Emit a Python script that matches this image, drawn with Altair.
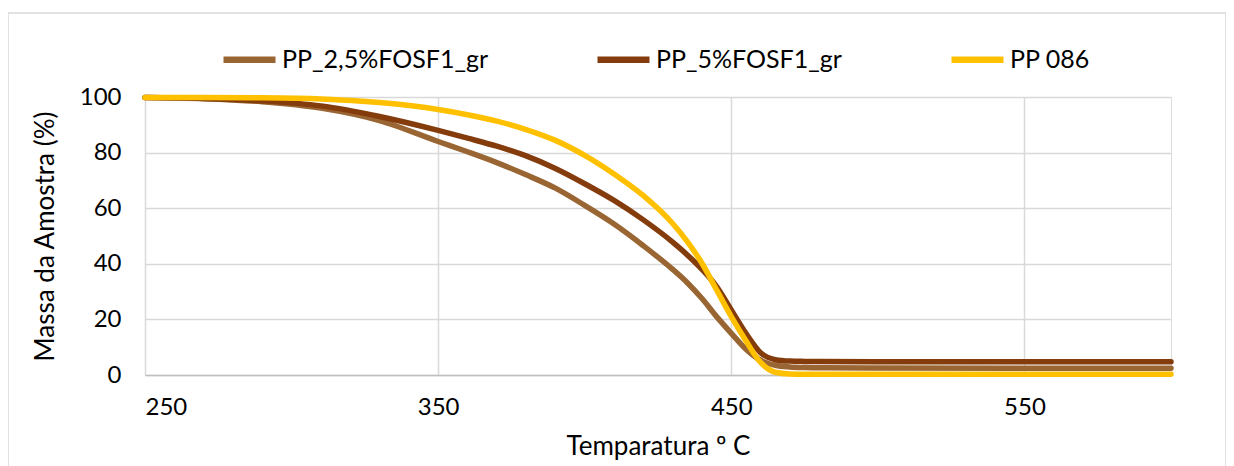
import altair as alt
import pandas as pd

# Temperature points (ºC)
temps = [250, 270, 290, 310, 330, 350, 360, 370, 380, 390, 400, 410, 420, 430, 435, 440,
         445, 450, 455, 460, 465, 470, 475, 480, 500, 600]

# Mass (%) per series
pp_25 = [99.8, 99.4, 98.3, 96.0, 91.5, 84.0, 80.3, 76.4, 72.0, 67.2, 61.0, 54.3, 46.5, 38.0, 33.2, 27.5,
         21.0, 15.0, 9.3, 5.3, 3.5, 2.9, 2.7, 2.6, 2.5, 2.4]
pp_5 = [99.8, 99.5, 98.6, 96.8, 93.0, 88.0, 85.2, 82.3, 78.8, 74.3, 68.8, 62.8, 55.8, 47.8, 43.2, 38.0,
        31.8, 23.4, 15.0, 8.0, 5.5, 5.0, 4.9, 4.85, 4.8, 4.8]
pp_086 = [99.8, 99.8, 99.7, 99.3, 98.0, 95.5, 93.6, 91.3, 88.3, 84.4, 79.0, 72.3, 64.5, 54.5, 48.0, 40.2,
          30.6, 21.0, 12.3, 4.5, 1.0, 0.4, 0.3, 0.3, 0.3, 0.3]

series_names = ["PP_2,5%FOSF1_gr", "PP_5%FOSF1_gr", "PP 086"]
series_colors = ["#996633", "#843C0C", "#FFC000"]
x_ticks = [250, 350, 450, 550]
y_ticks = [0, 20, 40, 60, 80, 100]

rows = []
for i, (name, vals) in enumerate(zip(series_names, [pp_25, pp_5, pp_086])):
    for t, v in zip(temps, vals):
        rows.append({"T": t, "M": v, "serie": name, "ordem": i})
df = pd.DataFrame(rows)

FONT = "Lato"

lines = alt.Chart(df).mark_line(strokeWidth=5.5, strokeCap="round", interpolate="monotone").encode(
    x=alt.X("T:Q", title="Temparatura º C",
            scale=alt.Scale(domain=[250, 600], nice=False, zero=False),
            axis=alt.Axis(values=x_ticks, grid=True, gridColor="#d9d9d9", gridWidth=1.5,
                          domain=True, domainColor="#bfbfbf", domainWidth=1.5, ticks=False,
                          labelPadding=20, titlePadding=14, labelFontSize=24, titleFontSize=26,
                          labelFont=FONT, titleFont=FONT, labelColor="#000000", titleColor="#000000",
                          titleFontWeight="normal")),
    y=alt.Y("M:Q", title="Massa da Amostra (%)",
            scale=alt.Scale(domain=[0, 100], nice=False),
            axis=alt.Axis(values=y_ticks, grid=True, gridColor="#d9d9d9", gridWidth=1.5,
                          domain=False, ticks=False, labelPadding=24, titlePadding=21,
                          labelFontSize=24, titleFontSize=26, labelFont=FONT, titleFont=FONT,
                          labelColor="#000000", titleColor="#000000", titleFontWeight="normal")),
    color=alt.Color("serie:N", sort=series_names,
                    scale=alt.Scale(domain=series_names, range=series_colors),
                    legend=alt.Legend(title=None, orient="none", direction="horizontal",
                                      legendX=75, legendY=-67, symbolType="stroke",
                                      symbolSize=2704, symbolStrokeWidth=6.5,
                                      labelFontSize=25, labelFont=FONT, labelColor="#000000",
                                      labelOffset=3, columnPadding=96, labelLimit=400)),
    order=alt.Order("ordem:Q"),
    detail="serie:N",
)

frame = alt.Chart(pd.DataFrame({"a": [0]})).mark_rect(
    fill=None, stroke="#d9d9d9", strokeWidth=1.5
).encode(x=alt.value(-137), x2=alt.value(1081), y=alt.value(-84), y2=alt.value(400))

chart = alt.layer(frame, lines).properties(
    width=1026, height=278,
    autosize=alt.AutoSizeParams(type="none"),
    padding={"left": 137, "top": 89, "right": 55, "bottom": 100},
).configure_view(stroke=None).configure(background="white")

chart.save("out.html", embed_options={"renderer": "svg", "actions": False})
